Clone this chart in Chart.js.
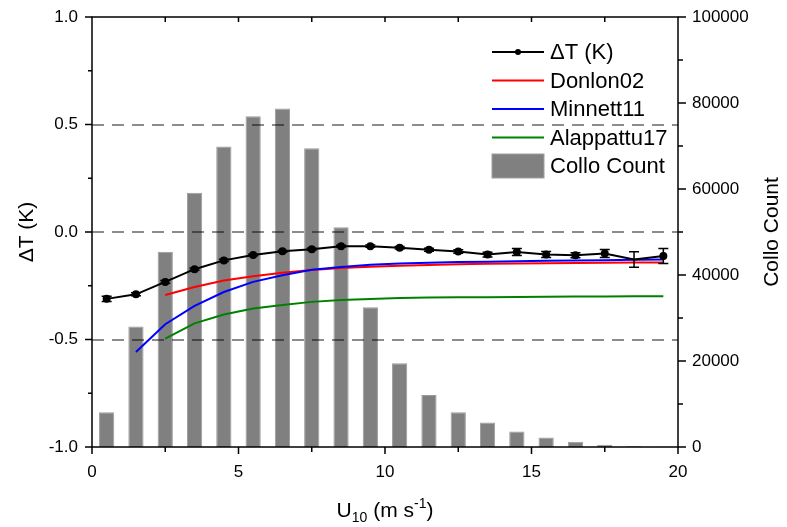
<!DOCTYPE html>
<html>
<head>
<meta charset="utf-8">
<script src="https://cdn.jsdelivr.net/npm/chart.js@4.4.1/dist/chart.umd.min.js"></script>
<style>
  html, body { margin: 0; padding: 0; background: #fff; }
  #wrap { width: 787px; height: 527px; position: relative; }
</style>
</head>
<body>
<div id="wrap"><canvas id="c"></canvas></div>
<script>
// wind speed bin centres (m/s)
const windBins = [0.5, 1.5, 2.5, 3.5, 4.5, 5.5, 6.5, 7.5, 8.5, 9.5,
                  10.5, 11.5, 12.5, 13.5, 14.5, 15.5, 16.5, 17.5, 18.5, 19.5];
// number of collocations per bin
const colloCount = [8100, 28000, 45400, 59100, 69900, 76900, 78700, 69500, 51100, 32500,
                    19500, 12100, 8100, 5700, 3600, 2200, 1200, 500, 200, 80];
// observed skin effect and its error
const deltaT = [-0.311, -0.290, -0.232, -0.173, -0.132, -0.107, -0.090, -0.080, -0.066, -0.066,
                -0.073, -0.083, -0.091, -0.105, -0.093, -0.105, -0.108, -0.100, -0.128, -0.112];
const deltaTErr = [0.012, 0.007, 0.006, 0.005, 0.005, 0.004, 0.004, 0.004, 0.004, 0.005,
                   0.006, 0.007, 0.008, 0.011, 0.016, 0.014, 0.012, 0.019, 0.036, 0.035];
// model curves
const donlon02 = [null, null, -0.293, -0.256, -0.226, -0.206, -0.190, -0.177, -0.168, -0.162,
                  -0.157, -0.153, -0.150, -0.148, -0.146, -0.145, -0.144, -0.143, -0.142, -0.142];
const minnett11 = [null, -0.558, -0.429, -0.344, -0.279, -0.232, -0.201, -0.176, -0.163, -0.152,
                   -0.146, -0.143, -0.140, -0.138, -0.136, -0.134, -0.132, -0.131, -0.129, -0.128];
const alappattu17 = [null, null, -0.496, -0.425, -0.384, -0.356, -0.339, -0.325, -0.316, -0.312,
                     -0.307, -0.305, -0.304, -0.303, -0.302, -0.301, -0.300, -0.300, -0.299, -0.299];
const dashLevels = [0.5, 0.0, -0.5];

const FONT = '"Liberation Sans", Arial, sans-serif';

function pts(arr) {
    return windBins.map((u, i) => ({ x: u, y: arr[i] }));
}

// fixed axis boxes so the plot area lands where the original has it
function fixBox(w, h) {
    return s => {
        if (w) s.width = w;
        if (h) s.height = h;
        s.paddingTop = 0; s.paddingBottom = 0;
        s.paddingLeft = 0; s.paddingRight = 0;
    };
}

const decor = {
    id: 'decor',
    // dashed lines go over the bars but under the curves
    afterDatasetDraw(chart, args) {
        if (args.index !== 4) return;
        const { ctx, chartArea: a, scales: { y } } = chart;
        ctx.save();
        ctx.strokeStyle = 'rgba(0,0,0,0.45)';
        ctx.lineWidth = 2;
        ctx.setLineDash([12, 8]);
        dashLevels.forEach(v => {
            const py = Math.round(y.getPixelForValue(v));
            ctx.beginPath();
            ctx.moveTo(a.left, py);
            ctx.lineTo(a.right, py);
            ctx.stroke();
        });
        ctx.restore();
    },
    // error bars on ΔT
    afterDatasetsDraw(chart) {
        const { ctx, scales: { x, y } } = chart;
        ctx.save();
        ctx.strokeStyle = '#000';
        ctx.lineWidth = 1.5;
        windBins.forEach((u, i) => {
            const px = x.getPixelForValue(u);
            const t = y.getPixelForValue(deltaT[i] + deltaTErr[i]);
            const b = y.getPixelForValue(deltaT[i] - deltaTErr[i]);
            ctx.beginPath();
            ctx.moveTo(px, t); ctx.lineTo(px, b);
            ctx.moveTo(px - 5, t); ctx.lineTo(px + 5, t);
            ctx.moveTo(px - 5, b); ctx.lineTo(px + 5, b);
            ctx.stroke();
        });
        ctx.restore();
    },
    afterDraw(chart) {
        const { ctx, chartArea: a, scales: { x, y, y2 } } = chart;
        ctx.save();
        ctx.strokeStyle = '#000';
        ctx.lineWidth = 1.5;
        // frame
        ctx.strokeRect(a.left, a.top, a.right - a.left, a.bottom - a.top);
        ctx.beginPath();
        for (let v = -1; v <= 1.001; v += 0.25) {
            const py = y.getPixelForValue(v);
            const len = Math.abs(v * 2 - Math.round(v * 2)) < 0.01 ? 7 : 4;
            ctx.moveTo(a.left - len, py); ctx.lineTo(a.left, py);
        }
        for (let u = 0; u <= 20; u += 2.5) {
            const px = x.getPixelForValue(u);
            const len = u % 5 === 0 ? 7 : 5;
            ctx.moveTo(px, a.bottom); ctx.lineTo(px, a.bottom + len);
            if (u > 0 && u < 20) { ctx.moveTo(px, a.top); ctx.lineTo(px, a.top + 5); }
        }
        for (let c = 0; c <= 100000; c += 10000) {
            const py = y2.getPixelForValue(c);
            const len = c % 20000 === 0 ? 8 : 5;
            ctx.moveTo(a.right, py); ctx.lineTo(a.right + len, py);
        }
        ctx.stroke();

        // axis titles
        ctx.fillStyle = '#000';
        ctx.font = '21px ' + FONT;
        ctx.textAlign = 'center';
        ctx.textBaseline = 'middle';
        const midY = (a.top + a.bottom) / 2;
        ctx.save();
        ctx.translate(27, midY);
        ctx.rotate(-Math.PI / 2);
        ctx.fillText('\u0394T (K)', 0, 0);
        ctx.restore();
        ctx.save();
        ctx.translate(772, midY);
        ctx.rotate(-Math.PI / 2);
        ctx.fillText('Collo Count', 0, 0);
        ctx.restore();

        // U10 (m s-1) with sub/superscript
        const big = '21px ' + FONT, small = '14px ' + FONT;
        const parts = [['U', big, 0], ['10', small, 5], [' (m s', big, 0], ['-1', small, -9], [')', big, 0]];
        let w = 0;
        parts.forEach(p => { ctx.font = p[1]; w += ctx.measureText(p[0]).width; });
        let cx = (a.left + a.right) / 2 - w / 2;
        ctx.textAlign = 'left';
        ctx.textBaseline = 'alphabetic';
        parts.forEach(p => {
            ctx.font = p[1];
            ctx.fillText(p[0], cx, 517 + p[2]);
            cx += ctx.measureText(p[0]).width;
        });

        // legend
        const items = [
            { label: '\u0394T (K)', color: '#000', dot: true },
            { label: 'Donlon02', color: '#ff0000' },
            { label: 'Minnett11', color: '#0000ff' },
            { label: 'Alappattu17', color: '#008000' },
            { label: 'Collo Count', color: '#808080', box: true }
        ];
        const lx0 = a.right - 186, lx1 = a.right - 134;
        ctx.font = '22px ' + FONT;
        ctx.textBaseline = 'middle';
        items.forEach((it, i) => {
            const ly = a.top + 35 + i * 28.5;
            if (it.box) {
                ctx.fillStyle = it.color;
                ctx.fillRect(lx0, ly - 12, lx1 - lx0, 24);
                ctx.strokeStyle = '#a0a0a0';
                ctx.lineWidth = 1;
                ctx.strokeRect(lx0, ly - 12, lx1 - lx0, 24);
            } else {
                ctx.strokeStyle = it.color;
                ctx.lineWidth = 2;
                ctx.beginPath();
                ctx.moveTo(lx0, ly); ctx.lineTo(lx1, ly);
                ctx.stroke();
                if (it.dot) {
                    ctx.fillStyle = it.color;
                    ctx.beginPath();
                    ctx.arc((lx0 + lx1) / 2, ly, 3, 0, Math.PI * 2);
                    ctx.fill();
                }
            }
            ctx.fillStyle = '#000';
            ctx.fillText(it.label, lx1 + 6, ly + 1);
        });
        ctx.restore();
    }
};

const tickFont = { family: FONT, size: 17 };

new Chart(document.getElementById('c'), {
    type: 'bar',
    data: {
        datasets: [
            {
                type: 'line', label: '\u0394T (K)', data: pts(deltaT), yAxisID: 'y',
                borderColor: '#000', backgroundColor: '#000', borderWidth: 2,
                pointRadius: deltaT.map((v, i) => i === 18 ? 0 : 3), pointHoverRadius: 3,
                tension: 0, order: 0
            },
            {
                type: 'line', label: 'Minnett11', data: pts(minnett11), yAxisID: 'y',
                borderColor: '#0000ff', borderWidth: 2, pointRadius: 0, tension: 0, order: 1
            },
            {
                type: 'line', label: 'Donlon02', data: pts(donlon02), yAxisID: 'y',
                borderColor: '#ff0000', borderWidth: 2, pointRadius: 0, tension: 0, order: 2
            },
            {
                type: 'line', label: 'Alappattu17', data: pts(alappattu17), yAxisID: 'y',
                borderColor: '#008000', borderWidth: 2, pointRadius: 0, tension: 0, order: 3
            },
            {
                type: 'bar', label: 'Collo Count', data: pts(colloCount), yAxisID: 'y2',
                backgroundColor: '#808080', borderColor: '#9c9c9c', borderWidth: 1,
                barPercentage: 0.52, categoryPercentage: 1, order: 10
            }
        ]
    },
    options: {
        responsive: true,
        maintainAspectRatio: false,
        animation: false,
        layout: { padding: { top: 17, right: 0, left: 0, bottom: 0 } },
        plugins: { legend: { display: false }, tooltip: { enabled: false } },
        scales: {
            x: {
                type: 'linear', position: 'bottom', min: 0, max: 20, offset: false,
                grid: { display: false, drawTicks: false },
                border: { display: false },
                ticks: { stepSize: 5, font: tickFont, color: '#000', padding: 15, maxRotation: 0 },
                afterFit: fixBox(0, 80)
            },
            y: {
                position: 'left', min: -1, max: 1,
                grid: { display: false, drawTicks: false },
                border: { display: false },
                ticks: { stepSize: 0.5, font: tickFont, color: '#000', padding: 14,
                         callback: v => v.toFixed(1) },
                afterFit: fixBox(92, 0)
            },
            y2: {
                position: 'right', min: 0, max: 100000,
                grid: { display: false, drawTicks: false },
                border: { display: false },
                ticks: { stepSize: 20000, font: tickFont, color: '#000', padding: 14,
                         callback: v => String(v) },
                afterFit: fixBox(109, 0)
            }
        }
    },
    plugins: [decor]
});
</script>
</body>
</html>
